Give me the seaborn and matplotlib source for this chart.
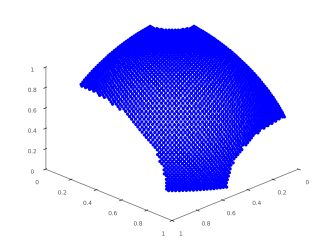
# plot.py - blue point lattice on a sphere patch, 3D view

import numpy as np
import pandas as pd
import matplotlib
matplotlib.use("Agg")
import matplotlib.pyplot as plt
import seaborn as sns

# lattice steps along two edges of the octant
lattice_steps = [0, 1, 2, 3, 4, 5, 6, 7, 8, 9, 10, 11, 12, 13, 14, 15, 16, 17, 18, 19, 20,
                 21, 22, 23, 24, 25, 26, 27, 28, 29, 30, 31, 32, 33, 34, 35, 36, 37, 38, 39, 40,
                 41, 42, 43, 44, 45, 46, 47, 48, 49, 50, 51, 52, 53, 54, 55, 56, 57, 58, 59, 60,
                 61, 62, 63, 64, 65, 66, 67, 68, 69, 70, 71, 72, 73, 74, 75, 76, 77, 78, 79, 80,
                 81, 82, 83, 84, 85, 86, 87, 88, 89, 90, 91, 92, 93, 94, 95, 96, 97, 98, 99, 100]
total_steps = 100
# where the patch is cut off
x_limit = 0.73
y_limit = 0.89
z_limit = 0.985

tick_values = [0, 0.2, 0.4, 0.6, 0.8, 1]
tick_labels = ["0", "0.2", "0.4", "0.6", "0.8", "1"]

# simplex lattice pushed out onto the unit sphere
i, j = np.meshgrid(lattice_steps, lattice_steps)
k = total_steps - i - j
keep = k >= 0
pts = np.column_stack([i[keep], j[keep], k[keep]]).astype(float)
pts = pts / np.linalg.norm(pts, axis=1, keepdims=True)
df = pd.DataFrame(pts, columns=["x", "y", "z"])
df = df[(df["x"] <= x_limit) & (df["y"] <= y_limit) & (df["z"] <= z_limit)]

sns.set_theme(style="white")
gray = "#7f7f7f"

fig = plt.figure(figsize=(3.32, 2.49), dpi=100)
ax = fig.add_axes([0.008, 0.012, 1, 1], projection="3d", proj_type="ortho")
ax.view_init(elev=24, azim=45)
ax.set_box_aspect((1, 1, 0.625), zoom=1.077)
ax.patch.set_alpha(0)

pts_drawn = ax.scatter(df["x"], df["y"], df["z"], s=5.5, c=sns.color_palette([(0, 0, 1)]),
                       linewidths=0, depthshade=False, alpha=1)
pts_drawn.set_snap(False)

ax.set_xlim(0, 1, view_margin=0)
ax.set_ylim(0, 1, view_margin=0)
ax.set_zlim(0, 1, view_margin=0)

for axis in (ax.xaxis, ax.yaxis, ax.zaxis):
    axis.set_ticks(tick_values)
    axis.set_ticklabels(tick_labels)
    axis.set_pane_color((1, 1, 1, 0))
    axis.pane.set_edgecolor((1, 1, 1, 0))
    axis.line.set_color(gray)
    axis.line.set_linewidth(0.6)
    axis._axinfo["tick"]["color"] = gray
    axis._axinfo["tick"]["linewidth"] = {True: 0.5, False: 0.5}
ax.grid(False)
ax.tick_params(labelsize=4.2, labelcolor="#555555", pad=-3, length=2)
ax.tick_params(axis="x", pad=-1.5)
ax.tick_params(axis="y", pad=-1.5)

# draw large, then shrink, so the dots come out soft like the original
scale = 4
fig.savefig("big.png", dpi=100 * scale)
plt.close(fig)
big = plt.imread("big.png")[..., :3]
h, w = big.shape[0] // scale, big.shape[1] // scale
small = big[:h * scale, :w * scale].reshape(h, scale, w, scale, 3).mean(axis=(1, 3))
plt.imsave("out.png", small)
